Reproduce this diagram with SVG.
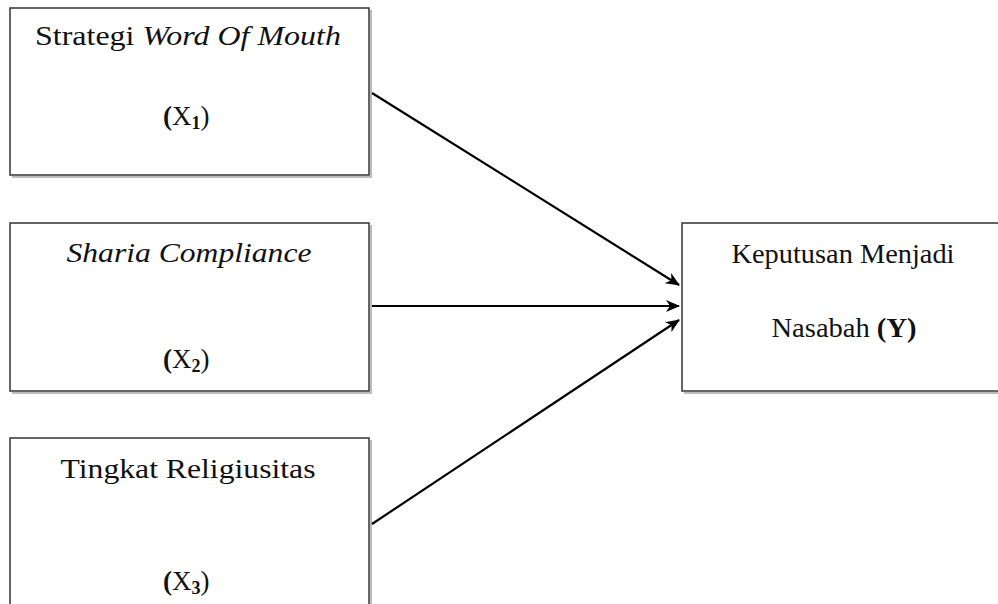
<svg xmlns="http://www.w3.org/2000/svg" width="998" height="604" viewBox="0 0 998 604">
<style>
.box{fill:#fff;stroke:#333;stroke-width:1.5}
.sh{fill:none;stroke:#bbb;stroke-width:2}
text{font-family:"Liberation Serif","Times New Roman",serif;font-size:27px;fill:#111}
.it{font-style:italic}
.b{font-weight:bold}
.sub{font-size:18px;font-weight:bold}
.c{stroke:#000;stroke-width:2.2;fill:none;marker-end:url(#ah)}
</style>
<defs>
<marker id="ah" markerWidth="14" markerHeight="12" refX="13" refY="6" orient="auto" markerUnits="userSpaceOnUse">
<path d="M0,0 L14,6 L0,12 L4,6 z" fill="#000"/>
</marker>
</defs>
<rect width="998" height="604" fill="#fff"/>
<g id="x1">
<polyline class="sh" points="371,10 371,177 12,177"/>
<rect class="box" x="10" y="8" width="359" height="167"/>
<text x="188" y="45" text-anchor="middle" textLength="306" lengthAdjust="spacingAndGlyphs">Strategi <tspan class="it">Word Of Mouth</tspan></text>
<text x="163" y="125"><tspan class="b">(</tspan>X<tspan class="sub" dy="4">1</tspan><tspan dy="-4">)</tspan></text>
</g>
<g id="x2">
<polyline class="sh" points="371,225 371,393 12,393"/>
<rect class="box" x="10" y="223" width="359" height="168"/>
<text class="it" x="189" y="262" text-anchor="middle" textLength="245" lengthAdjust="spacingAndGlyphs">Sharia Compliance</text>
<text x="163" y="368"><tspan class="b">(</tspan>X<tspan class="sub" dy="4">2</tspan><tspan dy="-4">)</tspan></text>
</g>
<g id="x3">
<polyline class="sh" points="371,440 371,606"/>
<rect class="box" x="10" y="438" width="359" height="180"/>
<text x="188" y="478" text-anchor="middle" textLength="255" lengthAdjust="spacingAndGlyphs">Tingkat Religiusitas</text>
<text x="163" y="590"><tspan class="b">(</tspan>X<tspan class="sub" dy="4">3</tspan><tspan dy="-4">)</tspan></text>
</g>
<g id="y">
<polyline class="sh" points="684,393 1000,393"/>
<rect class="box" x="682" y="223" width="330" height="168"/>
<text x="843" y="263" text-anchor="middle" textLength="223" lengthAdjust="spacingAndGlyphs">Keputusan Menjadi</text>
<text x="844" y="337" text-anchor="middle" textLength="145" lengthAdjust="spacingAndGlyphs">Nasabah <tspan class="b">(Y)</tspan></text>
</g>
<g id="connectors">
<line class="c" x1="372" y1="93" x2="679" y2="285"/>
<line class="c" x1="372" y1="306" x2="679" y2="306"/>
<line class="c" x1="372" y1="524" x2="679" y2="320"/>
</g>
</svg>
